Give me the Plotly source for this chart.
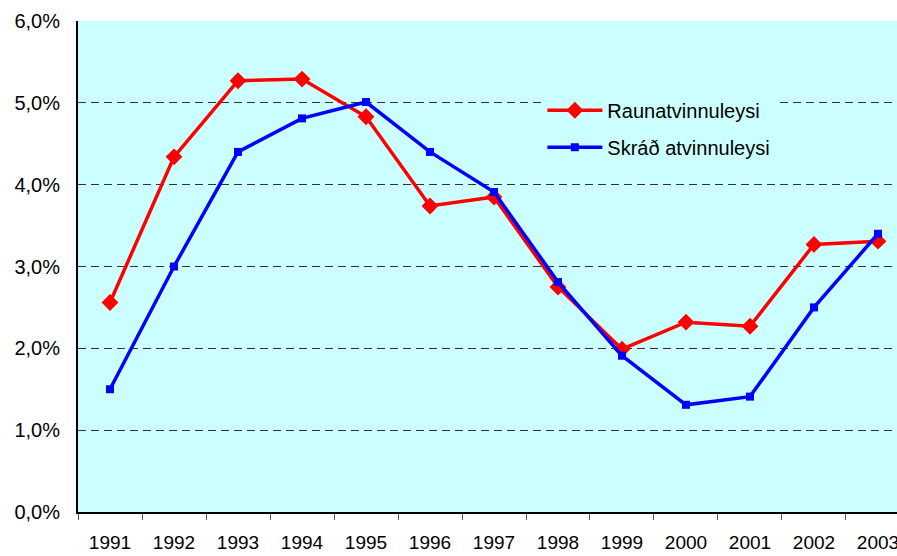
import plotly.graph_objects as go

years = ["1991", "1992", "1993", "1994", "1995", "1996", "1997",
         "1998", "1999", "2000", "2001", "2002", "2003"]
raun = [2.56, 4.34, 5.27, 5.29, 4.83, 3.74, 3.85, 2.75, 1.99, 2.32, 2.27, 3.27, 3.31]
skrad = [1.50, 3.00, 4.40, 4.81, 5.01, 4.40, 3.91, 2.81, 1.91, 1.31, 1.41, 2.50, 3.40]
ytickvals = [0, 1, 2, 3, 4, 5, 6]
yticktext = ["0,0%", "1,0%", "2,0%", "3,0%", "4,0%", "5,0%", "6,0%"]

fig = go.Figure()
fig.add_trace(go.Scatter(
    x=years, y=raun, name="Raunatvinnuleysi", mode="lines+markers",
    line=dict(color="#FF0000", width=3.5),
    marker=dict(symbol="diamond", size=13, color="#FF0000"),
    legendgroup="a"))
fig.add_trace(go.Scatter(
    x=years, y=skrad, name="Skráð atvinnuleysi", mode="lines+markers",
    line=dict(color="#0000FF", width=3.5),
    marker=dict(symbol="square", size=8, color="#0000FF"),
    legendgroup="b"))

font = "Liberation Sans, Arial, sans-serif"
fig.update_layout(
    width=897, height=556,
    margin=dict(l=78, r=0, t=21, b=44),
    paper_bgcolor="white", plot_bgcolor="#CCFFFF",
    font=dict(family=font, size=20, color="black"),
    showlegend=True,
    legend=dict(x=0.567, y=0.858, xanchor="left", yanchor="top",
                bgcolor="#CCFFFF", itemwidth=55,
                tracegroupgap=8, traceorder="grouped",
                font=dict(family=font, size=20, color="black")),
    xaxis=dict(type="category", range=[-0.5, 12.297], automargin=False,
               showline=True, linecolor="black", linewidth=2,
               ticks="outside", tickson="boundaries", ticklen=6,
               tickcolor="#555555", tickwidth=1,
               showgrid=False, zeroline=False,
               ticklabelstandoff=12,
               tickfont=dict(family=font, size=19)),
    yaxis=dict(range=[0, 6], tickvals=ytickvals, ticktext=yticktext,
               automargin=False,
               showline=True, linecolor="black", linewidth=2,
               showgrid=True, gridcolor="#333333", gridwidth=1,
               griddash="8px,5px", zeroline=False, ticks="",
               ticklabelstandoff=12,
               tickfont=dict(family=font, size=20)),
)

post = ("document.body.style.margin='0';"
        "document.body.style.overflow='hidden';"
        "document.documentElement.style.overflow='hidden';")
fig.write_html("out.html", post_script=post,
               config={"displayModeBar": False})
